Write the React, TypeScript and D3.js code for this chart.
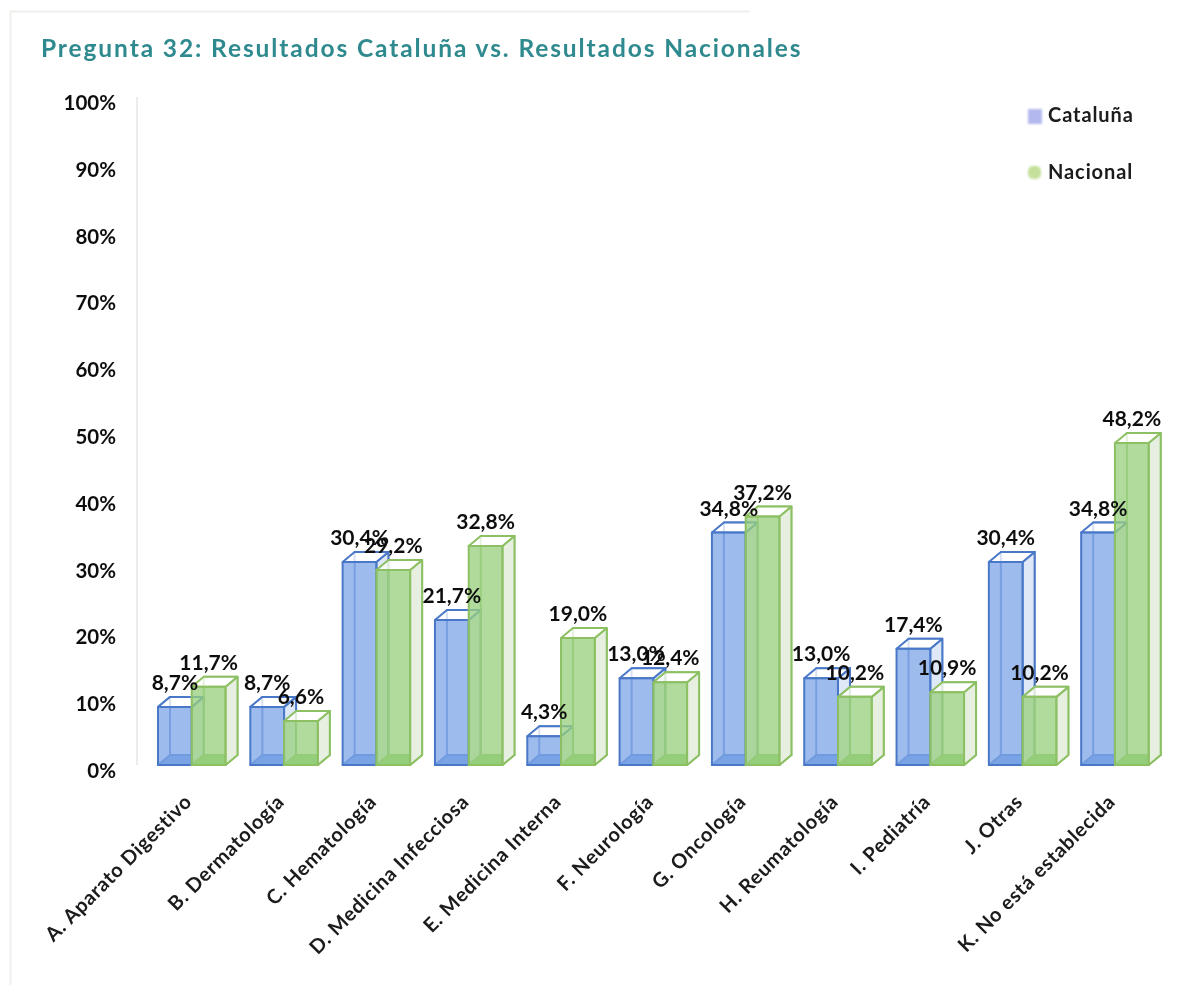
import React from "react";
import * as d3 from "d3";

const categories = ["A. Aparato Digestivo","B. Dermatología","C. Hematología","D. Medicina Infecciosa","E. Medicina Interna","F. Neurología","G. Oncología","H. Reumatología","I. Pediatría","J. Otras","K. No está establecida"];
const cataluna = [8.7,8.7,30.4,21.7,4.3,13.0,34.8,13.0,17.4,30.4,34.8];
const nacional = [11.7,6.6,29.2,32.8,19.0,12.4,37.2,10.2,10.9,10.2,48.2];
const ticks = [0,10,20,30,40,50,60,70,80,90,100];
const title = "Pregunta 32: Resultados Cataluña vs. Resultados Nacionales";

const FONT = "Lato, Carlito, sans-serif";
const W = 1203, H = 985;
const y = d3.scaleLinear().domain([0,100]).range([765,97]);
const x = d3.scaleBand<string>().domain(categories).range([145,1160.5]).paddingInner(0).paddingOuter(0);
const series = d3.scaleBand<string>().domain(["c","n"]).range([13,80.5]);
const DX = 12, DY = 10;

const fmt = (v:number)=> v.toFixed(1).replace(".",",")+"%";

function Bar({x0,w,v,stroke,front,floor,side}:{x0:number;w:number;v:number;stroke:string;front:string;floor:string;side:string}){
  const t=y(v), b=y(0), x1=x0+w;
  const pts=(a:number[][])=>a.map(p=>p.join(",")).join(" ");
  return <g stroke={stroke} strokeWidth={2} strokeLinejoin="round">
    <rect x={x0+DX} y={t-DY} width={w} height={b-t} fill="#ffffff" fillOpacity={0.3} strokeOpacity={0.85}/>
    <polygon points={pts([[x0,b],[x1,b],[x1+DX,b-DY],[x0+DX,b-DY]])} fill={floor}/>
    <polygon points={pts([[x1,t],[x1+DX,t-DY],[x1+DX,b-DY],[x1,b]])} fill={side}/>
    <polygon points={pts([[x0,t],[x1,t],[x1+DX,t-DY],[x0+DX,t-DY]])} fill="#ffffff" fillOpacity={0.75}/>
    <rect x={x0} y={t} width={w} height={b-t} fill={front} fillOpacity={0.76}/>
  </g>;
}

export default function App(){
  return (
    <svg width={W} height={H} viewBox={`0 0 ${W} ${H}`} style={{position:"absolute",left:0,top:0,background:"#fff"}} fontFamily={FONT}>
      <defs>
        <filter id="soft" x="-2%" y="-2%" width="104%" height="104%"><feGaussianBlur stdDeviation="0.6"/></filter>
        <filter id="soft2" x="-40%" y="-40%" width="180%" height="180%"><feGaussianBlur stdDeviation="1.2"/></filter>
      </defs>
      <g filter="url(#soft)">
        <path d="M10.5 985V11.5H750" fill="none" stroke="#efefec" strokeWidth={2}/>
        <text x={41} y={57} fontSize={24.5} fontWeight={700} fill="#2f8a8e" letterSpacing={1.9}>{title}</text>
        <line x1={137} x2={137} y1={y(100)} y2={y(0)} stroke="#ececec" strokeWidth={2}/>
        {ticks.map(t=>(
          <text key={t} x={116} y={y(t)+13} textAnchor="end" fontSize={20.5} fontWeight={700} fill="#111">{t}%</text>
        ))}
        {categories.map((c,i)=>{
          const x0=x(c)!, bw=series.bandwidth();
          return <g key={c}>
            <Bar x0={x0+series("c")!} w={bw} v={cataluna[i]} stroke="#4a78c8" front="#7ea6e6" floor="#6f9be0" side="#dfe8f6"/>
            <Bar x0={x0+series("n")!} w={bw} v={nacional[i]} stroke="#8cc063" front="#98d07e" floor="#8cc86e" side="#e6efe0"/>
          </g>;
        })}
        {categories.map((c,i)=>{
          const x0=x(c)!, bw=series.bandwidth();
          return <g key={c} fontSize={21} fontWeight={700} fill="#111" textAnchor="middle">
            <text x={x0+series("c")!+bw/2} y={y(cataluna[i])-17}>{fmt(cataluna[i])}</text>
            <text x={x0+series("n")!+bw/2} y={y(nacional[i])-17}>{fmt(nacional[i])}</text>
          </g>;
        })}
        {categories.map(c=>{
          const cx=x(c)!+x.bandwidth()/2+2;
          return <text key={c} transform={`translate(${cx},803) rotate(-45)`} textAnchor="end" fontSize={20} fontWeight={700} fill="#1a1a1a" letterSpacing={0.7}>{c}</text>;
        })}
        <text x={1048} y={122} fontSize={20} fontWeight={700} fill="#1a1a1a" letterSpacing={0.9}>Cataluña</text>
        <text x={1048} y={179} fontSize={20} fontWeight={700} fill="#1a1a1a" letterSpacing={0.9}>Nacional</text>
      </g>
      <rect x={1028} y={109} width={14} height={15} fill="#b3b8ee" filter="url(#soft2)"/>
      <rect x={1028} y={166} width={13} height={13} rx={5} fill="#c4e09a" filter="url(#soft2)"/>
    </svg>
  );
}
